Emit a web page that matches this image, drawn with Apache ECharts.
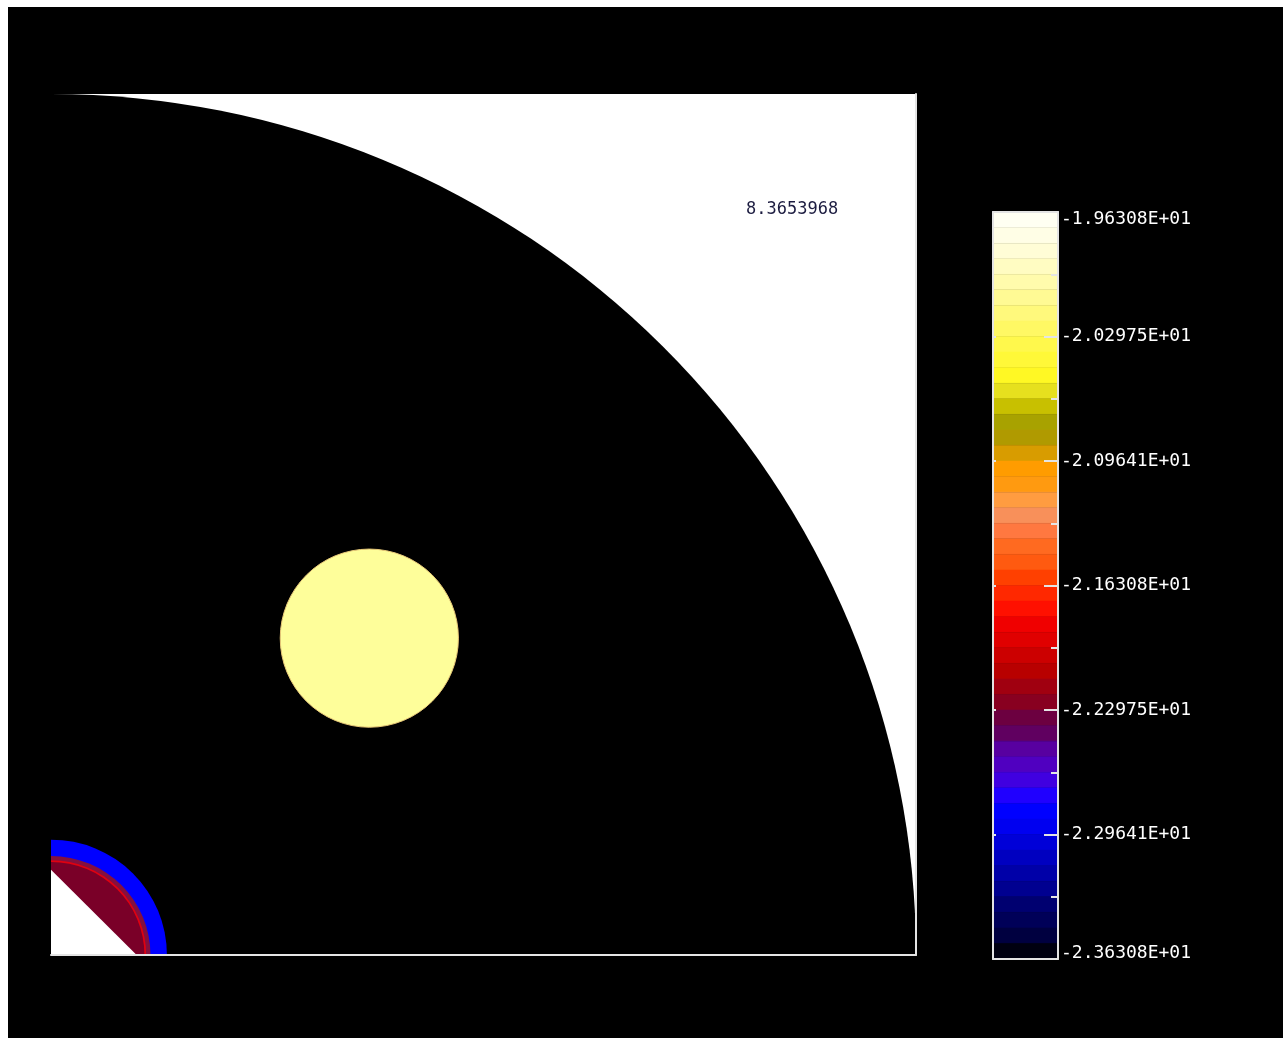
<!DOCTYPE html>
<html>
<head>
<meta charset="utf-8">
<script src="https://cdn.jsdelivr.net/npm/echarts/dist/echarts.min.js"></script>
<style>
  html, body { margin: 0; padding: 0; background: #fff; overflow: hidden; }
  #chart { position: absolute; left: 8px; top: 7px; width: 1275px; height: 1031px; background: #000; }
</style>
</head>
<body>
<div id="chart"></div>
<script>
// plot domain (quarter geometry, arbitrary units)
const domainMax = 100;
const vesselRadius = 100;
const rodCenter = [36.8, 36.8];
const rodRadius = 10.3;
const pinCenter = [0, 0];
const pinRadii = [13.4, 11.5, 11.0, 10.8];      // outer -> inner rings of the corner pin
const voidTriangle = [[0, 0], [0, 9.9], [9.9, 0]];
const timeLabel = '8.3653968';

// colour bar
const tickLabels = ['-2.36308E+01', '-2.29641E+01', '-2.22975E+01', '-2.16308E+01',
  '-2.09641E+01', '-2.02975E+01', '-1.96308E+01'];
const bandColors = [
  '#fffff2', '#fffee6', '#fffdd6', '#fffcc2', '#fffbac', '#fffa94', '#fff97c', '#fff864',
  '#fff84c', '#fff838', '#fff824', '#e6e01e', '#c8c000', '#a8a200', '#b09a00', '#d89c00',
  '#ff9c00', '#ff9a10', '#ff9c40', '#f8905a', '#ff7840', '#ff6a20', '#ff5a10', '#ff4000',
  '#ff2800', '#ff1000', '#f00000', '#e00000', '#cc0000', '#b80000', '#a00010', '#880020',
  '#6c0040', '#600060', '#5800a0', '#5000c0', '#4000e0', '#2000ff', '#0000ff', '#0000f0',
  '#0000d8', '#0000c0', '#0000a8', '#000090', '#000070', '#000058', '#000040', '#000010'
];

const pinColors = ['#0000ff', '#84103e', '#e00010', '#7a0028'];

const chart = echarts.init(document.getElementById('chart'));

// quarter of a circle in data units (may be slightly elliptical in pixels)
const quarter = (api, center, radius, color) => {
  const c = api.coord(center);
  const s = api.size([radius, radius]);
  return {
    type: 'sector',
    originX: c[0],
    originY: c[1],
    scaleY: s[1] / s[0],
    shape: { cx: c[0], cy: c[1], r0: 0, r: s[0], startAngle: -Math.PI / 2, endAngle: 0, clockwise: true },
    style: { fill: color }
  };
};

const nBands = bandColors.length;
const barMax = tickLabels.length - 1;
const axisGrey = '#e4e4e4';

const option = {
  backgroundColor: '#000',
  animation: false,
  title: {
    text: timeLabel,
    left: 733,
    top: 189,
    textStyle: { fontFamily: 'DejaVu Sans Mono', fontSize: 17, fontWeight: 'normal', color: '#1c1c40' }
  },
  grid: [
    { left: 43, top: 87, width: 865, height: 861, show: true, backgroundColor: '#fff', borderWidth: 0 },
    { left: 985, top: 205, width: 65, height: 747 }
  ],
  xAxis: [
    {
      gridIndex: 0, type: 'value', min: 0, max: domainMax, z: 5,
      axisLine: { show: true, onZero: false, lineStyle: { color: axisGrey, width: 2 } },
      axisTick: { show: false }, axisLabel: { show: false }, splitLine: { show: false }
    },
    {
      gridIndex: 1, type: 'value', min: 0, max: 1, position: 'bottom', z: 5,
      axisLine: { show: true, onZero: false, lineStyle: { color: axisGrey, width: 2 } },
      axisTick: { show: false }, axisLabel: { show: false }, splitLine: { show: false }
    },
    {
      gridIndex: 1, type: 'value', min: 0, max: 1, position: 'top', z: 5,
      axisLine: { show: true, onZero: false, lineStyle: { color: axisGrey, width: 2 } },
      axisTick: { show: false }, axisLabel: { show: false }, splitLine: { show: false }
    }
  ],
  yAxis: [
    {
      gridIndex: 0, type: 'value', min: 0, max: domainMax, position: 'right', z: 5,
      axisLine: { show: true, onZero: false, lineStyle: { color: axisGrey, width: 2 } },
      axisTick: { show: false }, axisLabel: { show: false }, splitLine: { show: false }
    },
    {
      gridIndex: 1, type: 'value', min: 0, max: barMax, interval: 1, position: 'right', z: 5,
      axisLine: { show: true, onZero: false, lineStyle: { color: axisGrey, width: 2 } },
      axisTick: { show: true, inside: true, length: 14, lineStyle: { color: axisGrey, width: 2 } },
      minorTick: { show: true, splitNumber: 2, length: 7, lineStyle: { color: axisGrey, width: 2 } },
      splitLine: { show: false },
      axisLabel: {
        margin: 3,
        color: '#fff',
        fontFamily: 'DejaVu Sans Mono',
        fontSize: 18,
        formatter: (v) => {
          const t = tickLabels[Math.round(v)];
          if (Math.round(v) === barMax) return '{top|' + t + '}';
          if (Math.round(v) === 0) return '{bot|' + t + '}';
          return t;
        },
        rich: {
          top: { color: '#fff', fontFamily: 'DejaVu Sans Mono', fontSize: 18, padding: [14, 0, 0, 0] },
          bot: { color: '#fff', fontFamily: 'DejaVu Sans Mono', fontSize: 18, padding: [0, 0, 12, 0] }
        }
      }
    },
    {
      gridIndex: 1, type: 'value', min: 0, max: barMax, interval: 1, position: 'left', z: 5,
      axisLine: { show: true, onZero: false, lineStyle: { color: axisGrey, width: 2 } },
      axisTick: { show: true, inside: true, length: 3, lineStyle: { color: axisGrey, width: 2 } },
      axisLabel: { show: false }, splitLine: { show: false }
    }
  ],
  series: [
    {
      // vessel (black quarter disk)
      type: 'custom', xAxisIndex: 0, yAxisIndex: 0, z: 1, silent: true,
      data: [[0, 0, vesselRadius]],
      renderItem: (params, api) => quarter(api, [api.value(0), api.value(1)], api.value(2), '#000')
    },
    {
      // rod
      type: 'custom', xAxisIndex: 0, yAxisIndex: 0, z: 2, silent: true,
      data: [[rodCenter[0], rodCenter[1], rodRadius]],
      renderItem: (params, api) => {
        const c = api.coord([api.value(0), api.value(1)]);
        const r = api.size([api.value(2), 0])[0];
        return {
          type: 'circle',
          shape: { cx: c[0], cy: c[1], r: r },
          style: { fill: '#fefe9a', stroke: '#e8c878', lineWidth: 1 }
        };
      }
    },
    {
      // corner pin rings
      type: 'custom', xAxisIndex: 0, yAxisIndex: 0, z: 2, silent: true,
      data: pinRadii.map((r, i) => [pinCenter[0], pinCenter[1], r, i]),
      renderItem: (params, api) =>
        quarter(api, [api.value(0), api.value(1)], api.value(2), pinColors[api.value(3)])
    },
    {
      // void triangle in the pin
      type: 'custom', xAxisIndex: 0, yAxisIndex: 0, z: 3, silent: true,
      data: [0],
      renderItem: (params, api) => ({
        type: 'polygon',
        shape: { points: voidTriangle.map((p) => api.coord(p)) },
        style: { fill: '#fff' }
      })
    },
    {
      // colour bar bands
      type: 'custom', xAxisIndex: 1, yAxisIndex: 1, z: 1, silent: true,
      data: bandColors.map((c, i) => [i]),
      renderItem: (params, api) => {
        const i = api.value(0);
        const hi = barMax - (i * barMax) / nBands;
        const lo = barMax - ((i + 1) * barMax) / nBands;
        const p0 = api.coord([0, hi]);
        const p1 = api.coord([1, lo]);
        return {
          type: 'rect',
          shape: { x: p0[0], y: p0[1], width: p1[0] - p0[0], height: p1[1] - p0[1] },
          style: { fill: bandColors[i], stroke: bandColors[i], lineWidth: 0.5 }
        };
      }
    }
  ]
};

chart.setOption(option);
</script>
</body>
</html>
